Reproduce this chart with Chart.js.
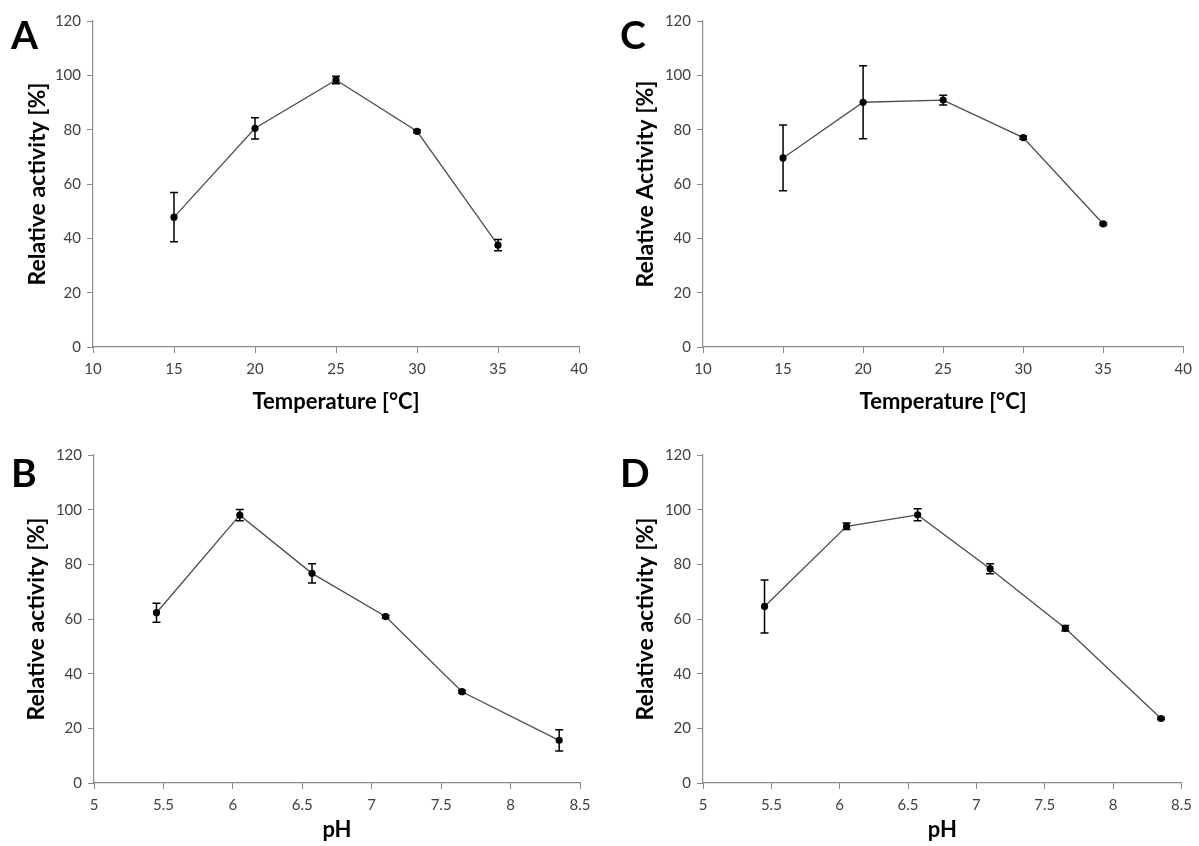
<!DOCTYPE html>
<html>
<head>
<meta charset="utf-8">
<script src="https://cdn.jsdelivr.net/npm/chart.js@4/dist/chart.umd.min.js"></script>
<style>
  html, body { margin: 0; padding: 0; background: #ffffff; }
  #wrap { position: relative; width: 1199px; height: 846px; overflow: hidden; background: #fff; }
  canvas { position: absolute; }
</style>
</head>
<body>
<div id="wrap">
  <canvas id="cA" width="600" height="420" style="left:0px;top:0px;"></canvas>
  <canvas id="cC" width="599" height="420" style="left:600px;top:0px;"></canvas>
  <canvas id="cB" width="600" height="426" style="left:0px;top:420px;"></canvas>
  <canvas id="cD" width="599" height="426" style="left:600px;top:420px;"></canvas>
</div>
<script>
// ---------- data ----------
const temperatures = [15, 20, 25, 30, 35];
const activityA = [47.8, 80.5, 98.3, 79.4, 37.5];
const errorA    = [9.1, 3.9, 1.4, 0.5, 2.1];
const activityC = [69.6, 90.1, 90.9, 77.1, 45.3];
const errorC    = [12.1, 13.4, 1.8, 0.6, 0.4];

const pHValues  = [5.45, 6.05, 6.57, 7.1, 7.65, 8.35];
const activityB = [62.3, 98.0, 76.7, 60.9, 33.4, 15.6];
const errorB    = [3.5, 2.1, 3.5, 0.5, 0.5, 3.9];
const activityD = [64.6, 93.9, 98.1, 78.4, 56.6, 23.6];
const errorD    = [9.7, 1.2, 2.2, 1.8, 1.0, 0.4];

const temperatureTicks = [10, 15, 20, 25, 30, 35, 40];
const pHTicks = [5, 5.5, 6, 6.5, 7, 7.5, 8, 8.5];
const activityTicks = [0, 20, 40, 60, 80, 100, 120];

// ---------- styles ----------
const FONT = "Lato, 'Open Sans', 'DejaVu Sans', sans-serif";
const AXIS_COLOR = '#8a8a8a';
const TICK_TEXT = '#404040';

const errorBarPlugin = {
  id: 'errorBars',
  afterDatasetsDraw(chart, args, opts) {
    const { ctx } = chart;
    const xs = chart.scales.x, ys = chart.scales.y;
    ctx.save();
    ctx.strokeStyle = '#000';
    ctx.lineWidth = 1.5;
    opts.x.forEach((xv, i) => {
      const px = xs.getPixelForValue(xv);
      const top = ys.getPixelForValue(opts.y[i] + opts.err[i]);
      const bot = ys.getPixelForValue(opts.y[i] - opts.err[i]);
      ctx.beginPath();
      ctx.moveTo(px, top); ctx.lineTo(px, bot);
      ctx.moveTo(px - 4, top); ctx.lineTo(px + 4, top);
      ctx.moveTo(px - 4, bot); ctx.lineTo(px + 4, bot);
      ctx.stroke();
    });
    ctx.restore();
  }
};

const panelLetterPlugin = {
  id: 'panelLetter',
  afterDraw(chart, args, opts) {
    const { ctx } = chart;
    ctx.save();
    ctx.fillStyle = '#000';
    ctx.font = "bold 39px " + FONT;
    ctx.textBaseline = 'alphabetic';
    ctx.textAlign = 'left';
    ctx.fillText(opts.text, opts.x, opts.y);
    ctx.restore();
  }
};

function buildPanel(id, p) {
  const canvas = document.getElementById(id);
  const H = canvas.height;
  new Chart(canvas, {
    type: 'scatter',
    data: {
      datasets: [{
        data: p.xs.map((x, i) => ({ x: x, y: p.ys[i] })),
        showLine: true,
        borderColor: '#4d4d4d',
        borderWidth: 1.3,
        pointRadius: 3.6,
        pointBackgroundColor: '#000',
        pointBorderColor: '#000',
        pointBorderWidth: 0,
        tension: 0,
        fill: false
      }]
    },
    options: {
      responsive: false,
      animation: false,
      devicePixelRatio: 1,
      layout: { padding: { left: p.padLeft, top: p.padTop, right: p.padRight, bottom: 0 } },
      plugins: {
        legend: { display: false },
        tooltip: { enabled: false },
        errorBars: { x: p.xs, y: p.ys, err: p.errs },
        panelLetter: { text: p.letter, x: p.letterX, y: p.letterY }
      },
      scales: {
        x: {
          type: 'linear',
          min: p.xTicks[0],
          max: p.xTicks[p.xTicks.length - 1],
          afterBuildTicks: s => { s.ticks = p.xTicks.map(v => ({ value: v })); },
          afterFit: s => { s.height = H - p.areaBottom; },
          ticks: {
            color: TICK_TEXT,
            font: { family: FONT, size: 15 },
            padding: 7,
            maxRotation: 0,
            autoSkip: false,
            callback: v => String(v)
          },
          grid: { drawOnChartArea: false, tickLength: 6, color: AXIS_COLOR, lineWidth: 1 },
          border: { color: AXIS_COLOR, width: 1.2 },
          title: {
            display: true,
            text: p.xTitle,
            color: '#000',
            font: { family: FONT, size: 22, weight: 'bold' },
            padding: { top: 0, bottom: p.xTitlePad }
          }
        },
        y: {
          type: 'linear',
          min: 0,
          max: 120,
          afterBuildTicks: s => { s.ticks = activityTicks.map(v => ({ value: v })); },
          afterFit: s => { s.width = p.yWidth; },
          ticks: {
            color: TICK_TEXT,
            font: { family: FONT, size: 15 },
            padding: 6,
            callback: v => String(v)
          },
          grid: { drawOnChartArea: false, tickLength: 6, color: AXIS_COLOR, lineWidth: 1 },
          border: { color: AXIS_COLOR, width: 1.2 },
          title: {
            display: true,
            text: p.yTitle,
            color: '#000',
            font: { family: FONT, size: 23, weight: 'bold' },
            padding: { top: 0, bottom: 0 }
          }
        }
      }
    },
    plugins: [errorBarPlugin, panelLetterPlugin]
  });
}

buildPanel('cA', {
  xs: temperatures, ys: activityA, errs: errorA, xTicks: temperatureTicks,
  xTitle: 'Temperature [°C]', yTitle: 'Relative activity [%]',
  padLeft: 24, padTop: 21, padRight: 21, yWidth: 69, areaBottom: 347, xTitlePad: 5,
  letter: 'A', letterX: 11, letterY: 49
});
buildPanel('cC', {
  xs: temperatures, ys: activityC, errs: errorC, xTicks: temperatureTicks,
  xTitle: 'Temperature [°C]', yTitle: 'Relative Activity [%]',
  padLeft: 32, padTop: 21, padRight: 11, yWidth: 71, areaBottom: 347, xTitlePad: 5,
  letter: 'C', letterX: 20, letterY: 49
});
buildPanel('cB', {
  xs: pHValues, ys: activityB, errs: errorB, xTicks: pHTicks,
  xTitle: 'pH', yTitle: 'Relative activity [%]',
  padLeft: 23, padTop: 35, padRight: 20, yWidth: 71, areaBottom: 363, xTitlePad: 3,
  letter: 'B', letterX: 11, letterY: 67
});
buildPanel('cD', {
  xs: pHValues, ys: activityD, errs: errorD, xTicks: pHTicks,
  xTitle: 'pH', yTitle: 'Relative activity [%]',
  padLeft: 32, padTop: 35, padRight: 11, yWidth: 71, areaBottom: 363, xTitlePad: 3,
  letter: 'D', letterX: 20, letterY: 67
});
</script>
</body>
</html>
